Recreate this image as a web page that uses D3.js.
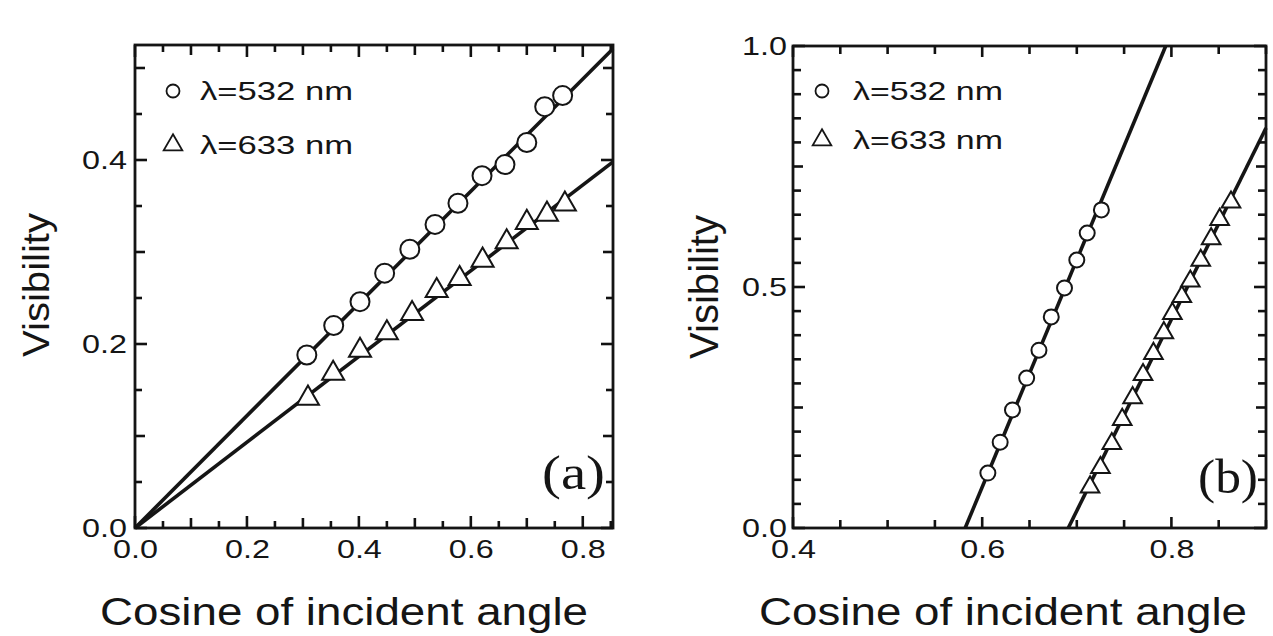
<!DOCTYPE html>
<html><head><meta charset="utf-8">
<script src="https://cdn.jsdelivr.net/npm/d3@7"></script>
<style>body{margin:0;background:#fff}svg{display:block}</style>
</head><body>
<svg id="c" width="1273" height="636"></svg>
<script>
// ---------- Panel (a) data ----------
const aX532 = [0.307,0.355,0.402,0.446,0.491,0.536,0.577,0.620,0.661,0.700,0.732,0.764];
const aY532 = [0.188,0.220,0.246,0.277,0.303,0.330,0.353,0.383,0.395,0.419,0.458,0.470];
const aX633 = [0.309,0.354,0.402,0.450,0.495,0.539,0.580,0.621,0.664,0.700,0.736,0.768];
const aY633 = [0.141,0.168,0.193,0.212,0.233,0.258,0.271,0.291,0.311,0.332,0.341,0.352];
const aFitX = [0, 0.854];
const aFit532Y = [0, 0.521];
const aFit633Y = [0, 0.398];
const aXTicks = [0.0, 0.2, 0.4, 0.6, 0.8];
const aYTicks = [0.0, 0.2, 0.4];
// ---------- Panel (b) data ----------
const bX532 = [0.606,0.619,0.632,0.647,0.660,0.673,0.687,0.700,0.711,0.726];
const bY532 = [0.114,0.178,0.245,0.311,0.369,0.438,0.498,0.556,0.612,0.660];
const bX633 = [0.714,0.725,0.737,0.748,0.759,0.770,0.781,0.792,0.801,0.811,0.820,0.831,0.842,0.851,0.863];
const bY633 = [0.085,0.125,0.175,0.225,0.270,0.318,0.362,0.405,0.445,0.480,0.512,0.555,0.600,0.640,0.676];
const bFit532X = [0.582, 0.794];
const bFit532Y = [0.0, 1.0];
const bFit633X = [0.691, 0.9];
const bFit633Y = [0.0, 0.83];
const bXTicks = [0.4, 0.6, 0.8];
const bYTicks = [0.0, 0.5, 1.0];
const legendLabels = ["λ=532 nm", "λ=633 nm"];
const xTitle = "Cosine of incident angle";
const yTitle = "Visibility";

const svg = d3.select("#c");
const INK = "#151515";
const TICK = "#111";
const SANS = "'Liberation Sans', Arial, Helvetica, sans-serif";
const SERIF = "'Liberation Serif', 'Times New Roman', serif";

function panel(o) {
  const x = d3.scaleLinear().domain(o.xDom).range([o.left, o.right]);
  const y = d3.scaleLinear().domain(o.yDom).range([o.bottom, o.top]);
  const g = svg.append("g");
  const W = o.right - o.left, H = o.bottom - o.top;

  g.append("rect").attr("x", o.left).attr("y", o.top).attr("width", W).attr("height", H)
    .attr("fill", "none").attr("stroke", INK).attr("stroke-width", 2.8);

  const bx = g.append("g").attr("transform", `translate(0,${o.bottom})`)
    .call(d3.axisBottom(x).tickValues(o.xTicks).tickSize(0)
      .tickPadding(12).tickFormat(d3.format(".1f")));
  const ly = g.append("g").attr("transform", `translate(${o.left},0)`)
    .call(d3.axisLeft(y).tickValues(o.yTicks).tickSize(0)
      .tickPadding(o.yPad).tickFormat(d3.format(".1f")));
  [bx, ly].forEach(a => {
    a.select(".domain").remove();
    a.selectAll(".tick line").remove();
    a.selectAll("text")
      .attr("font-family", SANS).attr("font-size", 26).attr("fill", INK)
      .attr("textLength", 45).attr("lengthAdjust", "spacingAndGlyphs");
  });
  bx.selectAll("text").attr("dy", "0.71em");

  // inward ticks on all four sides, from the scales
  const tg = svg.append("g").attr("stroke", TICK).attr("stroke-width", 2.6).attr("fill", "none");
  const xs = o.xMinor.map(v => ({ p: x(v), len: o.xMajor(v) }));
  const ys = o.yMinor.map(v => ({ p: y(v), len: o.yMajor(v) }));
  tg.selectAll(".xb").data(xs).join("line").attr("class", "xb")
    .attr("x1", d => d.p).attr("x2", d => d.p).attr("y1", o.bottom).attr("y2", d => o.bottom - d.len);
  tg.selectAll(".xt").data(xs).join("line").attr("class", "xt")
    .attr("x1", d => d.p).attr("x2", d => d.p).attr("y1", o.top).attr("y2", d => o.top + d.len);
  tg.selectAll(".yl").data(ys).join("line").attr("class", "yl")
    .attr("y1", d => d.p).attr("y2", d => d.p).attr("x1", o.left).attr("x2", d => o.left + d.len);
  tg.selectAll(".yr").data(ys).join("line").attr("class", "yr")
    .attr("y1", d => d.p).attr("y2", d => d.p).attr("x1", o.right).attr("x2", d => o.right - d.len);

  const line = d3.line().x(d => x(d[0])).y(d => y(d[1]));
  o.fits.forEach(f => {
    g.append("path").datum(d3.zip(f[0], f[1])).attr("d", line)
      .attr("fill", "none").attr("stroke", INK).attr("stroke-width", 3.6);
  });
  const circ = d3.zip(o.cX, o.cY), tri = d3.zip(o.tX, o.tY);
  g.selectAll(".mc").data(circ).join("circle").attr("class", "mc")
    .attr("cx", d => x(d[0])).attr("cy", d => y(d[1])).attr("r", o.r)
    .attr("fill", "#fff").attr("stroke", INK).attr("stroke-width", 2);
  const triSym = d3.symbol().type(d3.symbolTriangle).size(o.triSize);
  g.selectAll(".mt").data(tri).join("path").attr("class", "mt")
    .attr("transform", d => `translate(${x(d[0])},${y(d[1])})`).attr("d", triSym)
    .attr("fill", "#fff").attr("stroke", INK).attr("stroke-width", 2);

  g.append("circle").attr("cx", o.legX).attr("cy", o.legY[0]).attr("r", 6.5)
    .attr("fill", "#fff").attr("stroke", INK).attr("stroke-width", 1.8);
  g.append("path").attr("transform", `translate(${o.legX},${o.legY[1]})`)
    .attr("d", d3.symbol().type(d3.symbolTriangle).size(150))
    .attr("fill", "#fff").attr("stroke", INK).attr("stroke-width", 1.8);
  legendLabels.forEach((t, i) => {
    g.append("text").attr("x", o.legTX).attr("y", o.legY[i] + 9)
      .attr("font-family", SANS).attr("font-size", 25).attr("fill", INK)
      .attr("textLength", o.legW).attr("lengthAdjust", "spacingAndGlyphs").text(t);
  });
  g.append("text").attr("x", o.tagX).attr("y", o.tagY)
    .attr("font-family", SERIF).attr("font-size", 48).attr("fill", INK)
    .attr("textLength", o.tagW).attr("lengthAdjust", "spacingAndGlyphs").text(o.tag);
  g.append("text").attr("x", o.xtX).attr("y", 625)
    .attr("font-family", SANS).attr("font-size", 38).attr("fill", INK)
    .attr("textLength", 488).attr("lengthAdjust", "spacingAndGlyphs").text(xTitle);
  g.append("text").attr("transform", `translate(${o.ytX},${o.ytY}) rotate(-90)`)
    .attr("text-anchor", "middle")
    .attr("font-family", SANS).attr("font-size", o.ytSize).attr("fill", INK)
    .attr("textLength", 144).attr("lengthAdjust", "spacingAndGlyphs").text(yTitle);
}

const near = (v, step) => Math.abs(v / step - Math.round(v / step)) < 1e-6;

panel({
  xDom: [0, 0.854], yDom: [0, 0.525], left: 135, right: 613, top: 45, bottom: 528,
  xTicks: aXTicks, yTicks: aYTicks,
  xMinor: d3.range(0, 0.851, 0.05), yMinor: d3.range(0, 0.526, 0.05), yPad: 8,
  xMajor: v => near(v, 0.2) ? 12 : near(v, 0.1) ? 10 : 7,
  yMajor: v => near(v, 0.2) ? 12 : near(v, 0.1) ? 10 : 7,
  fits: [[aFitX, aFit532Y], [aFitX, aFit633Y]],
  cX: aX532, cY: aY532, tX: aX633, tY: aY633, r: 9.5, triSize: 210,
  legX: 173, legY: [91, 145], legTX: 200, legW: 153,
  tag: "(a)", tagX: 542, tagY: 489, tagW: 63,
  xtX: 100, ytX: 49, ytY: 285, ytSize: 36
});
panel({
  xDom: [0.4, 0.9], yDom: [0, 1.0], left: 793, right: 1266, top: 46, bottom: 528,
  xTicks: bXTicks, yTicks: bYTicks,
  xMinor: d3.range(0.4, 0.9001, 0.05), yMinor: d3.range(0, 1.0001, 0.05), yPad: 6,
  xMajor: v => near(v, 0.2) ? 11 : 8,
  yMajor: v => near(v, 0.5) ? 12 : near(v, 0.25) ? 10 : 8,
  fits: [[bFit532X, bFit532Y], [bFit633X, bFit633Y]],
  cX: bX532, cY: bY532, tX: bX633, tY: bY633, r: 7.5, triSize: 150,
  legX: 822, legY: [91, 140], legTX: 853, legW: 150,
  tag: "(b)", tagX: 1198, tagY: 493, tagW: 60,
  xtX: 759, ytX: 718, ytY: 287, ytSize: 40
});
</script>
</body></html>
